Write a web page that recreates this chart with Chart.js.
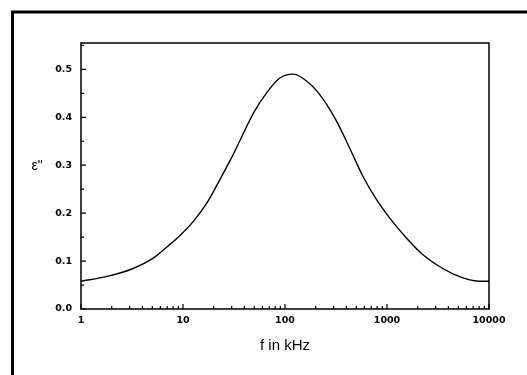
<!DOCTYPE html>
<html>
<head>
<meta charset="utf-8">
<script src="https://cdn.jsdelivr.net/npm/chart.js@4/dist/chart.umd.min.js"></script>
<style>
html, body { margin: 0; padding: 0; background: #fff; }
#wrap { width: 527px; height: 375px; }
</style>
</head>
<body>
<div id="wrap"><canvas id="lossChart"></canvas></div>
<script>
// values
const freqKHz = [1, 1.8, 3.2, 5.1, 7.1, 9.3, 13, 17.6, 23, 31, 40, 50, 66, 89, 120, 175, 236, 320, 430, 580, 790, 1060, 1550, 2250, 3540, 5560, 8100, 10000];
const epsLoss = [0.058, 0.068, 0.084, 0.106, 0.131, 0.153, 0.186, 0.225, 0.270, 0.322, 0.371, 0.412, 0.451, 0.482, 0.490, 0.470, 0.438, 0.392, 0.336, 0.277, 0.228, 0.190, 0.148, 0.113, 0.084, 0.065, 0.058, 0.058];
const xTickValues = [1, 10, 100, 1000, 10000];
const yTickValues = [0, 0.1, 0.2, 0.3, 0.4, 0.5];
const xTitle = 'f in kHz';
const yTitle = 'ε"';

const tickFont = { family: '"DejaVu Sans", sans-serif', size: 9.5, weight: 'bold' };

const framePlugin = {
    id: 'frame',
    beforeDraw(chart) {
        const c = chart.ctx;
        c.save();
        c.fillStyle = '#fff';
        c.fillRect(0, 0, chart.width, chart.height);
        c.strokeStyle = '#000';
        c.lineWidth = 3;
        c.beginPath();
        c.moveTo(12.5, chart.height);
        c.lineTo(12.5, 12);
        c.lineTo(chart.width, 12);
        c.stroke();
        c.restore();
    },
    afterDraw(chart) {
        const { ctx, chartArea: a, scales: { x, y } } = chart;
        ctx.save();
        ctx.strokeStyle = '#000';
        ctx.lineWidth = 1.5;
        ctx.strokeRect(a.left, a.top, a.right - a.left, a.bottom - a.top);

        // inward ticks, bottom axis
        ctx.lineWidth = 1.2;
        ctx.beginPath();
        for (let i = 0; i < xTickValues.length; i++) {
            const d = xTickValues[i];
            const px = x.getPixelForValue(d);
            ctx.moveTo(px, a.bottom);
            ctx.lineTo(px, a.bottom - 5);
            if (i < xTickValues.length - 1) {
                for (let m = 2; m <= 9; m++) {
                    const mx = x.getPixelForValue(d * m);
                    ctx.moveTo(mx, a.bottom);
                    ctx.lineTo(mx, a.bottom - 3);
                }
            }
        }
        // inward ticks, left axis
        for (let i = 0; i < yTickValues.length; i++) {
            const py = y.getPixelForValue(yTickValues[i]);
            ctx.moveTo(a.left, py);
            ctx.lineTo(a.left + 5, py);
            const next = i < yTickValues.length - 1 ? yTickValues[i + 1] : yTickValues[i] + 0.1;
            const my = y.getPixelForValue((yTickValues[i] + next) / 2);
            if (my > a.top) {
                ctx.moveTo(a.left, my);
                ctx.lineTo(a.left + 3, my);
            }
        }
        ctx.stroke();

        ctx.fillStyle = '#000';
        ctx.font = '14px "Liberation Sans", Arial, sans-serif';
        ctx.textAlign = 'center';
        ctx.textBaseline = 'middle';
        ctx.fillText(yTitle, 37, 166);
        ctx.restore();
    }
};

new Chart(document.getElementById('lossChart'), {
    type: 'line',
    data: {
        datasets: [{
            data: freqKHz.map((f, i) => ({ x: f, y: epsLoss[i] })),
            borderColor: '#000',
            borderWidth: 1.4,
            pointRadius: 0,
            fill: false,
            cubicInterpolationMode: 'monotone'
        }]
    },
    options: {
        responsive: true,
        maintainAspectRatio: false,
        animation: false,
        layout: { padding: { top: 43, right: 38, left: 0, bottom: 0 } },
        plugins: { legend: { display: false }, tooltip: { enabled: false } },
        scales: {
            x: {
                type: 'logarithmic',
                min: 1,
                max: 10000,
                afterBuildTicks: s => { s.ticks = xTickValues.map(v => ({ value: v })); },
                afterFit: s => { s.height = 66; },
                grid: { display: false, drawTicks: false },
                border: { display: false },
                ticks: {
                    color: '#000',
                    font: tickFont,
                    padding: 6,
                    maxRotation: 0,
                    autoSkip: false,
                    callback: v => String(v)
                },
                title: {
                    display: true,
                    text: xTitle,
                    color: '#000',
                    font: { family: '"Liberation Sans", Arial, sans-serif', size: 15 },
                    padding: { top: 4, bottom: 20 }
                }
            },
            y: {
                min: 0,
                max: 0.555,
                afterBuildTicks: s => { s.ticks = yTickValues.map(v => ({ value: v })); },
                afterFit: s => { s.width = 81; },
                grid: { display: false, drawTicks: false },
                border: { display: false },
                ticks: {
                    color: '#000',
                    font: tickFont,
                    padding: 9,
                    callback: v => v.toFixed(1)
                }
            }
        }
    },
    plugins: [framePlugin]
});
</script>
</body>
</html>
